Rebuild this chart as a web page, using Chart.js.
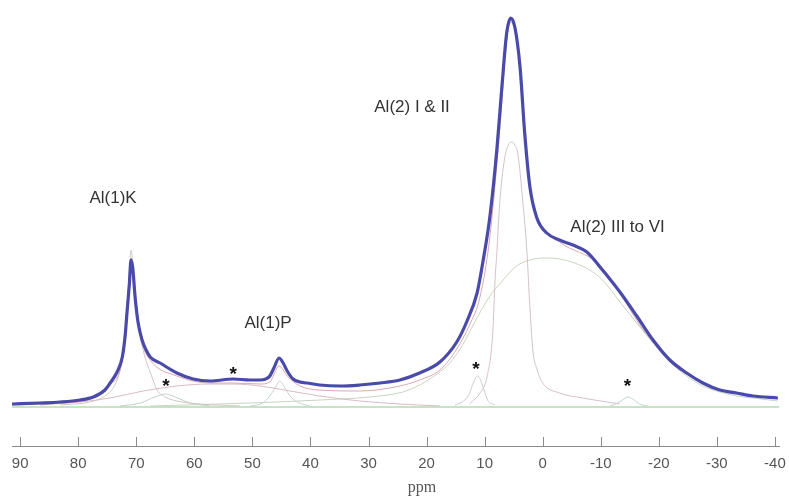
<!DOCTYPE html>
<html>
<head>
<meta charset="utf-8">
<script src="https://cdn.jsdelivr.net/npm/chart.js@4.4.0/dist/chart.umd.min.js"></script>
<style>
  html, body { margin: 0; padding: 0; background: #fff; }
  #wrap { width: 789px; height: 500px; }
</style>
</head>
<body>
<div id="wrap"><canvas id="nmr" width="789" height="500"></canvas></div>
<script>
// -----------------------
// Data (ppm / intensity, a.u.)
// -----------------------
const tickValues = [90, 80, 70, 60, 50, 40, 30, 20, 10, 0, -10, -20, -30, -40];

// measured spectrum
const specPpm = [91.4, 86.6, 83.1, 79.7, 77.4, 75.4, 74.5, 73.3, 72.4, 71.9, 71.6, 71.2, 70.9, 70.6, 70.2, 69.7, 69.0, 68.3, 67.6, 65.9,
  63.0, 60.2, 57.3, 53.3, 50.4, 48.7, 47.7, 47.0, 46.3, 45.4, 44.7, 44.0, 43.0, 41.8, 40.6, 38.4, 34.9, 31.5, 28.0, 24.6,
  21.2, 17.7, 14.8, 13.1, 11.3, 10.3, 9.1, 7.9, 7.0, 6.2, 5.5, 4.8, 3.9, 3.1, 2.2, 1.0, -0.7, -2.9, -5.2, -7.6,
  -10.3, -13.3, -16.2, -19.0, -21.9, -24.8, -27.6, -30.5, -33.4, -36.2, -40.5];
const specInt = [3, 4, 5, 7, 10, 17, 24, 35, 50, 72, 94, 122, 147, 139, 110, 85, 67, 57, 50, 44,
  34, 28, 26, 28, 27, 27, 28, 31, 39, 49, 44, 36, 28, 25, 24, 22, 21, 22, 24, 27,
  34, 45, 65, 85, 114, 145, 190, 257, 322, 374, 389, 380, 340, 274, 220, 189, 174, 167, 162, 155,
  137, 115, 91, 67, 47, 34, 24, 17, 14, 11, 9];

// fitted sum
const fitPpm = [91.4, 83.1, 77.4, 74.5, 72.4, 71.6, 70.9, 70.2, 69.0, 67.6, 63.0, 57.3, 53.3, 48.7, 47.0, 45.4, 44.0, 41.8, 38.4, 31.5,
  24.6, 21.2, 17.7, 14.8, 12.6, 10.8, 9.1, 7.4, 6.2, 5.5, 4.8, 3.9, 3.1, 2.2, 0.5, -2.9, -9.8, -18.4, -27.0, -40.5];
const fitInt = [2, 4, 9, 22, 47, 92, 149, 112, 65, 47, 31, 24, 24, 23, 25, 41, 31, 21, 17, 16,
  21, 27, 37, 58, 82, 110, 170, 277, 367, 385, 377, 337, 272, 217, 185, 165, 142, 69, 25, 8];

// Al(1)K component
const kPpm = [83.1, 78.0, 75.4, 73.7, 72.8, 72.1, 71.6, 71.2, 70.9, 70.6, 70.2, 69.7, 69.2, 68.5, 67.6, 66.4, 65.0, 63.0, 59.0, 52.1];
const kInt = [2, 5, 11, 22, 37, 62, 102, 132, 157, 145, 117, 87, 67, 50, 35, 17, 10, 6, 3, 1];

// broad hump under 53 ppm
const humpPpm = [86.6, 79.7, 74.5, 68.8, 63.0, 57.3, 53.3, 48.7, 43.5, 38.4, 31.5, 24.6, 17.7];
const humpInt = [2, 5, 9, 16, 21, 23, 23, 21, 16, 11, 6, 3, 1];

// Al(1)P component
const pPpm = [50.4, 48.2, 47.0, 46.1, 45.3, 44.4, 43.5, 42.3, 40.1];
const pInt = [1, 4, 11, 19, 26, 19, 11, 5, 1];

// Al(2) I & II component
const a2Ppm = [12.6, 10.8, 9.6, 8.6, 8.2, 7.9, 7.4, 6.6, 5.9, 5.3, 4.8, 4.3, 3.4, 2.7, 2.3, 1.7, 1.0, 0.0, -2.9, -6.9, -13.3];
const a2Int = [3, 14, 30, 74, 127, 154, 204, 247, 262, 265, 262, 254, 204, 154, 110, 57, 38, 24, 14, 9, 3];

// Al(2) III to VI component
const a3Ppm = [67.6, 50.4, 38.4, 29.8, 24.1, 21.2, 18.2, 16.0, 13.8, 11.7, 9.1, 7.4, 4.5, 2.2, -0.4, -2.9, -5.5, -8.1, -10.3, -13.3,
  -16.2, -19.0, -21.9, -24.8, -27.6, -30.5, -33.4, -36.2, -40.5];
const a3Int = [1, 4, 7, 10, 15, 22, 33, 44, 62, 85, 111, 123, 141, 147, 149, 148, 144, 137, 127, 105,
  84, 64, 45, 31, 21, 15, 11, 9, 6];

// spinning sidebands (*)
const sb1Ppm = [72.8, 69.3, 66.8, 65.0, 63.3, 60.7, 57.3];
const sb1Int = [1, 4, 10, 13, 10, 4, 1];
const sb2Ppm = [15.1, 13.4, 12.6, 11.9, 11.2, 10.7, 10.1, 9.5, 8.2];
const sb2Int = [2, 7, 14, 25, 31, 27, 17, 7, 2];
const sb3Ppm = [-11.6, -12.9, -14.0, -14.7, -15.5, -16.7, -18.1];
const sb3Int = [1, 4, 8, 10, 8, 3, 1];

// baseline
const basePpm = [91.4, -40.7];
const baseInt = [0, 0];

// labels
const notes = [
  { text: 'Al(1)K', ppm: 74.0, y: 209 },
  { text: 'Al(1)P', ppm: 47.3, y: 84 },
  { text: 'Al(2) I & II', ppm: 22.5, y: 300 },
  { text: 'Al(2) III to VI', ppm: -12.9, y: 180 }
];
const stars = [
  { ppm: 64.9, y: 25 }, { ppm: 53.3, y: 37 }, { ppm: 11.5, y: 42 }, { ppm: -14.6, y: 25 }
];

// -----------------------
// Helpers
// -----------------------
function pts(xs, ys) {
  return xs.map((v, i) => ({ x: v, y: ys[i] }));
}

function line(data, color, width) {
  return {
    data, borderColor: color, borderWidth: width,
    pointRadius: 0, fill: false, cubicInterpolationMode: 'monotone'
  };
}

// tick marks pointing up, labels, asterisks, axis title
const decor = {
  id: 'decor',
  afterDraw(chart) {
    const { ctx, chartArea, scales: { x, y } } = chart;
    ctx.save();
    ctx.strokeStyle = '#8a8a8a';
    ctx.lineWidth = 1;
    tickValues.forEach(v => {
      const px = Math.round(x.getPixelForValue(v)) + 0.5;
      ctx.beginPath();
      ctx.moveTo(px, chartArea.bottom);
      ctx.lineTo(px, chartArea.bottom - 9);
      ctx.stroke();
    });

    ctx.fillStyle = '#333';
    ctx.textAlign = 'center';
    ctx.textBaseline = 'middle';
    ctx.font = '17px "Liberation Sans", Arial, sans-serif';
    notes.forEach(n => ctx.fillText(n.text, x.getPixelForValue(n.ppm), y.getPixelForValue(n.y)));

    ctx.fillStyle = '#111';
    ctx.font = 'bold 19px "Liberation Sans", Arial, sans-serif';
    stars.forEach(s => ctx.fillText('*', x.getPixelForValue(s.ppm), y.getPixelForValue(s.y) + 5));

    ctx.fillStyle = '#555';
    ctx.textBaseline = 'alphabetic';
    ctx.font = '16px "Liberation Serif", "Times New Roman", serif';
    ctx.fillText('ppm', 422, 492);
    ctx.restore();
  }
};

// -----------------------
// Chart
// -----------------------
new Chart(document.getElementById('nmr'), {
  type: 'line',
  data: {
    datasets: [
      line(pts(specPpm, specInt), '#4a4aaa', 3.2),
      line(pts(fitPpm, fitInt), '#dca6b4', 1),
      line(pts(kPpm, kInt), '#d2c6c6', 1),
      line(pts(humpPpm, humpInt), '#d6bcc4', 1),
      line(pts(pPpm, pInt), '#c8d0d0', 1),
      line(pts(a2Ppm, a2Int), '#d6c0ca', 1),
      line(pts(a3Ppm, a3Int), '#c8d4c0', 1),
      line(pts(sb1Ppm, sb1Int), '#c4d0c8', 1),
      line(pts(sb2Ppm, sb2Int), '#cccccc', 1),
      line(pts(sb3Ppm, sb3Int), '#c4d4cc', 1),
      line(pts(basePpm, baseInt), '#90c890', 1)
    ]
  },
  options: {
    responsive: false,
    devicePixelRatio: 1,
    animation: false,
    layout: { padding: { left: 12, right: 10, top: 0, bottom: 0 } },
    plugins: { legend: { display: false }, tooltip: { enabled: false } },
    scales: {
      x: {
        type: 'linear', reverse: true, min: -40.7, max: 91.4,
        afterBuildTicks: s => { s.ticks = tickValues.map(v => ({ value: v })); },
        afterFit: s => { s.height = 54; s.paddingLeft = 0; s.paddingRight = 0; },
        grid: { display: false, drawTicks: false },
        border: { display: true, color: '#8a8a8a', width: 1 },
        ticks: {
          autoSkip: false, maxRotation: 0, padding: 9, color: '#555',
          font: { size: 15, family: '"Liberation Sans", Arial, sans-serif' }
        }
      },
      y: { display: false, min: -39, max: 407 }
    }
  },
  plugins: [decor]
});
</script>
</body>
</html>
